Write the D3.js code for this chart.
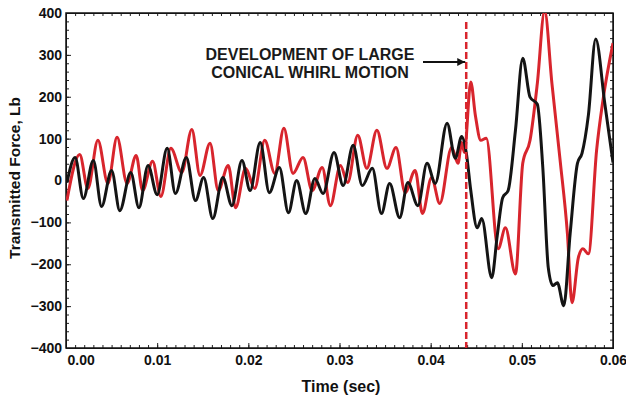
<!DOCTYPE html>
<html>
<head>
<meta charset="utf-8">
<script src="https://cdn.jsdelivr.net/npm/d3@7"></script>
<style>
  html, body { margin: 0; padding: 0; background: #fff; }
  svg { display: block; font-family: "Liberation Sans", Arial, sans-serif; }
</style>
</head>
<body>
<svg id="chart" width="626" height="398"></svg>
<script>
// black trace: extrema (time s, force lb)
const blackTime = [0.0001, 0.0010, 0.0019, 0.0030, 0.0039, 0.0050, 0.0059, 0.0071, 0.0080, 0.0090,
  0.0100, 0.0111, 0.0120, 0.0132, 0.0142, 0.0151, 0.0161, 0.0172, 0.0182, 0.0193,
  0.0202, 0.0213, 0.0223, 0.0234, 0.0244, 0.0253, 0.0263, 0.0273, 0.0282, 0.0294,
  0.0304, 0.0315, 0.0325, 0.0336, 0.0346, 0.0355, 0.0366, 0.0375, 0.0386, 0.0396,
  0.0405, 0.0418, 0.0427, 0.0434, 0.0439, 0.0444, 0.0451, 0.0456, 0.0467, 0.0473,
  0.0479, 0.0485, 0.0493, 0.0501, 0.0509, 0.0517, 0.0523, 0.0529, 0.0534, 0.0539,
  0.0546, 0.0553, 0.0561, 0.0566, 0.0573, 0.0581, 0.0591, 0.0600];
const blackForce = [-5, 55, -43, 48, -62, 24, -72, 19, -65, 36,
  -34, 77, -31, 55, -48, 7, -91, 7, -60, 48,
  -24, 91, -29, 31, -77, 0, -79, 5, -31, 67,
  -12, 84, -12, 29, -79, -7, -89, -5, -60, 41,
  -7, 137, 53, 105, 67, -24, -113, -91, -232, -132,
  -41, -24, 120, 292, 199, 182, 31, -208, -251, -244,
  -299, -127, 41, 65, 156, 338, 184, 43];

// red trace
const redTime = [0.0001, 0.0015, 0.0024, 0.0035, 0.0046, 0.0056, 0.0067, 0.0077, 0.0084, 0.0095,
  0.0104, 0.0115, 0.0127, 0.0138, 0.0147, 0.0158, 0.0167, 0.0178, 0.0186, 0.0197,
  0.0207, 0.0218, 0.0229, 0.0239, 0.0249, 0.0260, 0.0270, 0.0281, 0.0290, 0.0301,
  0.0309, 0.0320, 0.0330, 0.0341, 0.0352, 0.0362, 0.0372, 0.0383, 0.0391, 0.0401,
  0.0410, 0.0423, 0.0430, 0.0434, 0.0437, 0.0444, 0.0449, 0.0455, 0.0461, 0.0474,
  0.0482, 0.0493, 0.0501, 0.0509, 0.0517, 0.0525, 0.0533, 0.0542, 0.0550, 0.0555,
  0.0562, 0.0567, 0.0573, 0.0582, 0.0589, 0.0600];
const redForce = [-48, 62, -19, 96, -7, 103, -7, 60, -24, 46,
  -38, 77, 19, 122, 12, 89, -24, 36, -65, 29,
  -19, 96, 17, 125, 17, 55, -24, 31, -60, 36,
  -5, 108, 29, 120, 29, 79, -29, 24, -79, 7,
  -55, 79, 41, 91, 67, 235, 156, 96, 101, -163,
  -113, -223, 41, 96, 232, 405, 232, 48, -127, -292,
  -184, -163, -175, 72, 192, 328];

const xTicks = [0, 0.01, 0.02, 0.03, 0.04, 0.05, 0.06];
const yTicks = [-400, -300, -200, -100, 0, 100, 200, 300, 400];
const eventTime = 0.0439;
const noteLines = ["DEVELOPMENT OF LARGE", "CONICAL WHIRL MOTION"];

const pLeft = 66, pRight = 613, pTop = 13, pBottom = 348;

const svg = d3.select("#chart");

const x = d3.scaleLinear().domain([0, 0.06]).range([pLeft, pRight]);
const y = d3.scaleLinear().domain([-400, 400]).range([pBottom, pTop]);

// minor ticks, inward on all four sides
const xMinor = d3.range(0, 0.0605, 0.001);
const yMinor = d3.range(-400, 401, 20);

svg.append("g").attr("transform", `translate(0,${pBottom})`)
   .call(d3.axisBottom(x).tickValues(xMinor).tickSize(-3).tickFormat(""));
svg.append("g").attr("transform", `translate(0,${pTop})`)
   .call(d3.axisTop(x).tickValues(xMinor).tickSize(-3).tickFormat(""));
svg.append("g").attr("transform", `translate(${pLeft},0)`)
   .call(d3.axisLeft(y).tickValues(yMinor).tickSize(-3).tickFormat(""));
svg.append("g").attr("transform", `translate(${pRight},0)`)
   .call(d3.axisRight(y).tickValues(yMinor).tickSize(-3).tickFormat(""));

// labelled axes
const xAxis = svg.append("g")
   .attr("transform", `translate(0,${pBottom})`)
   .call(d3.axisBottom(x).tickValues(xTicks).tickSize(-5).tickPadding(7)
         .tickFormat(d3.format(".2f")));
xAxis.selectAll(".tick text").filter((d, i) => i === 0).attr("text-anchor", "start").attr("x", 1);

svg.append("g")
   .attr("transform", `translate(${pLeft},0)`)
   .call(d3.axisLeft(y).tickValues(yTicks).tickSize(-5).tickPadding(4));

svg.selectAll(".tick text")
   .attr("font-size", 14).attr("font-weight", "bold").attr("fill", "#111")
   .attr("font-family", "Liberation Sans, Arial, sans-serif");
svg.selectAll(".domain, .tick line").attr("stroke", "#222").attr("stroke-width", 1);

// frame
svg.append("rect")
   .attr("x", pLeft).attr("y", pTop)
   .attr("width", pRight - pLeft).attr("height", pBottom - pTop)
   .attr("fill", "none").attr("stroke", "#111").attr("stroke-width", 1.5);

// clip to plot
svg.append("clipPath").attr("id", "plot")
   .append("rect").attr("x", pLeft).attr("y", pTop)
   .attr("width", pRight - pLeft).attr("height", pBottom - pTop);

const line = d3.line()
   .x(d => x(d[0]))
   .y(d => y(d[1]))
   .curve(d3.curveMonotoneX);

const plot = svg.append("g").attr("clip-path", "url(#plot)");

plot.append("path")
   .datum(d3.zip(redTime, redForce))
   .attr("d", line)
   .attr("fill", "none").attr("stroke", "#d8252d").attr("stroke-width", 3);

plot.append("path")
   .datum(d3.zip(blackTime, blackForce))
   .attr("d", line)
   .attr("fill", "none").attr("stroke", "#141414").attr("stroke-width", 3);

// event marker
svg.append("line")
   .attr("x1", x(eventTime)).attr("x2", x(eventTime))
   .attr("y1", 22).attr("y2", pBottom)
   .attr("stroke", "#d8252d").attr("stroke-width", 2.5)
   .attr("stroke-dasharray", "7,3");

// annotation
svg.append("g").selectAll("text")
   .data(noteLines)
   .join("text")
   .attr("x", 310)
   .attr("y", (d, i) => 60 + i * 18)
   .attr("text-anchor", "middle")
   .attr("font-size", 16)
   .attr("font-weight", "bold")
   .attr("fill", "#1a1a1a")
   .text(d => d);

svg.append("defs").append("marker")
   .attr("id", "head")
   .attr("viewBox", "0 0 10 10")
   .attr("refX", 10).attr("refY", 5)
   .attr("markerWidth", 4).attr("markerHeight", 4)
   .attr("orient", "auto")
   .append("path").attr("d", "M0,0L10,5L0,10z").attr("fill", "#111");

svg.append("line")
   .attr("x1", 423).attr("x2", x(eventTime) - 1)
   .attr("y1", 62).attr("y2", 62)
   .attr("stroke", "#111").attr("stroke-width", 2)
   .attr("marker-end", "url(#head)");

// axis titles
svg.append("text")
   .attr("x", 341).attr("y", 392)
   .attr("text-anchor", "middle")
   .attr("font-size", 16).attr("font-weight", "bold").attr("fill", "#111")
   .text("Time (sec)");

svg.append("text")
   .attr("transform", "translate(20,178) rotate(-90)")
   .attr("text-anchor", "middle")
   .attr("font-size", 15.5).attr("font-weight", "bold").attr("fill", "#111")
   .text("Transmitted Force, Lb");
</script>
</body>
</html>
